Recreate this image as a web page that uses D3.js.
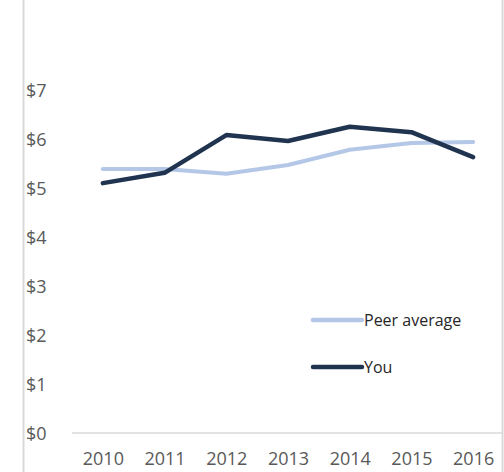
<!DOCTYPE html>
<html><head><meta charset="utf-8">
<script src="https://cdn.jsdelivr.net/npm/d3@7"></script>
<style>body{margin:0;background:#fff}svg{display:block}</style>
</head><body>
<svg id="c" width="504" height="472"></svg>
<script>
const years = ["2010","2011","2012","2013","2014","2015","2016"];
const peerAverage = [5.41, 5.41, 5.31, 5.49, 5.80, 5.94, 5.96];
const you = [5.12, 5.33, 6.10, 5.98, 6.27, 6.16, 5.65];
const yTicks = [0,1,2,3,4,5,6,7];
const seriesNames = ["Peer average", "You"];

const svg = d3.select("#c");
const font = "'Open Sans', sans-serif";
const x = d3.scalePoint().domain(years).range([72, 504]).padding(0.5);
const y = d3.scaleLinear().domain([0, 7]).range([434, 91]);

// frame lines
svg.append("line").attr("x1",23.5).attr("x2",23.5).attr("y1",0).attr("y2",472).attr("stroke","#d9d9d9").attr("stroke-width",2);
svg.append("line").attr("x1",502.5).attr("x2",502.5).attr("y1",0).attr("y2",472).attr("stroke","#d9d9d9").attr("stroke-width",2);

// y axis labels
const ya = svg.append("g").attr("transform","translate(26,0)")
  .call(d3.axisRight(y).tickValues(yTicks).tickSize(0).tickPadding(0).tickFormat(d => "$" + d));
ya.select(".domain").remove();
ya.selectAll("text").attr("fill","#595959").style("font-family",font).style("font-size","18px");

// x axis
const xa = svg.append("g").attr("transform","translate(0,433)")
  .call(d3.axisBottom(x).tickSize(0).tickPadding(19));
xa.select(".domain").attr("stroke","#d9d9d9").attr("stroke-width",1.5).attr("d","M72,0H503");
xa.selectAll("text").attr("fill","#595959").style("font-family",font).style("font-size","18px");

const line = d3.line().x((d,i) => x(years[i])).y(d => y(d));
svg.append("path").datum(peerAverage).attr("d", line).attr("fill","none")
  .attr("stroke","#b4c7e7").attr("stroke-width",4).attr("stroke-linejoin","round").attr("stroke-linecap","round");
svg.append("path").datum(you).attr("d", line).attr("fill","none")
  .attr("stroke","#203450").attr("stroke-width",4.5).attr("stroke-linejoin","round").attr("stroke-linecap","round");

// legend
const legendColors = ["#b4c7e7", "#203450"];
const legendY = [320, 367];
seriesNames.forEach((n, i) => {
  svg.append("line").attr("x1",313).attr("x2",362).attr("y1",legendY[i]).attr("y2",legendY[i])
    .attr("stroke",legendColors[i]).attr("stroke-width",4.5).attr("stroke-linecap","round");
  svg.append("text").attr("x",364).attr("y",legendY[i]).attr("dy","0.35em")
    .attr("fill","#262626").style("font-family",font).style("font-size","16px").text(n);
});
</script>
</body></html>
